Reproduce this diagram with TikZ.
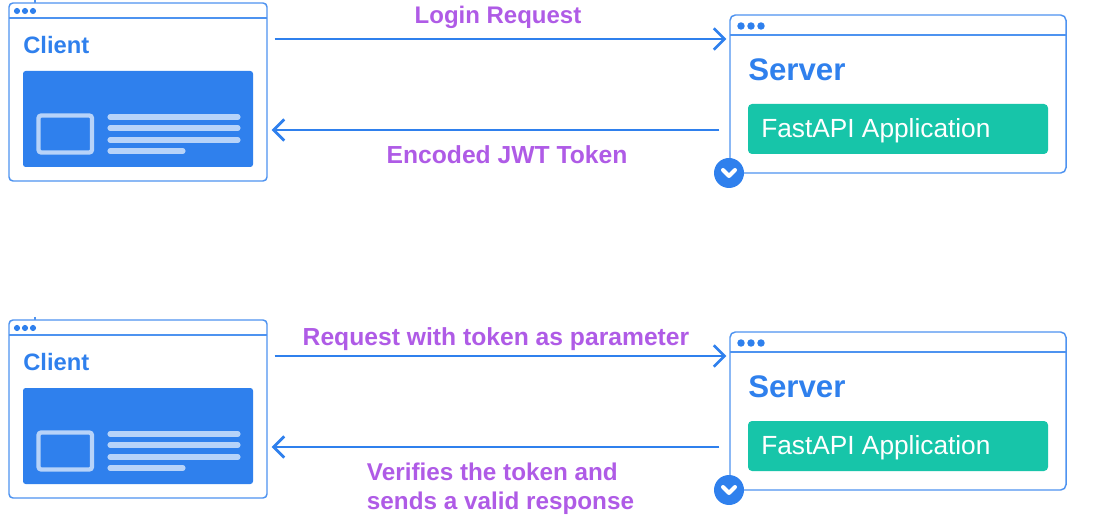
\documentclass[tikz,border=0pt]{standalone}
\usepackage{fontspec}
\setmainfont{Liberation Sans}
\definecolor{winblue}{RGB}{47, 128, 237}
\definecolor{paleblue}{RGB}{183, 211, 249}
\definecolor{appgreen}{RGB}{23, 197, 169}
\definecolor{msgpurple}{RGB}{175, 91, 230}
\usetikzlibrary{arrows.meta, positioning}
\tikzset{
  clientbox/.style={draw=winblue!85, line width=1.1pt, fill=white, rounded corners=3pt, minimum width=193.5pt, minimum height=133.5pt, inner sep=0pt},
  serverbox/.style={draw=winblue!85, line width=1.1pt, fill=white, rounded corners=4pt, minimum width=252pt, minimum height=118.5pt, inner sep=0pt},
  clienttitle/.style={anchor=west, text=winblue, inner sep=0pt, font=\fontsize{17.8pt}{20pt}\selectfont\bfseries},
  servertitle/.style={anchor=west, text=winblue, inner sep=0pt, font=\fontsize{23.4pt}{26pt}\selectfont\bfseries},
  screen/.style={fill=winblue, rounded corners=2pt, minimum width=172.5pt, minimum height=72pt, inner sep=0pt},
  appbox/.style={fill=appgreen, rounded corners=3pt, minimum width=225pt, minimum height=37.5pt, inner sep=0pt},
  applabel/.style={anchor=west, text=white, inner sep=0pt, font=\fontsize{19.7pt}{22pt}\selectfont},
  msglabel/.style={text=msgpurple, inner sep=0pt, align=left, font=\fontsize{18.5pt}{21.75pt}\selectfont\bfseries},
  msgarrow/.style={draw=winblue, line width=2.1pt, -{Straight Barb[length=8pt, width=16pt, line width=2pt]}},
  barline/.style={draw=winblue!85, line width=1.1pt},
  iconrect/.style={draw=paleblue, line width=3.2pt, rounded corners=2pt},
  textbar/.style={draw=paleblue, line width=3.8pt, line cap=round},
  badge/.style={circle, fill=winblue, minimum size=22.5pt, inner sep=0pt},
  chevron/.style={draw=white, line width=3pt, line cap=round, line join=round}
}
\begin{document}
\begin{tikzpicture}[x=0.75pt, y=-0.75pt]
  \useasboundingbox (0,0) rectangle (1094,530);

  % Top row: client window
  \draw[barline] (35,0) -- (35,3);
  \node[clientbox] (clienta) at (138,92) {};
  \draw[barline] (9,18) -- (267,18);
  \fill[winblue] (17,11) circle (2.3pt) (25,11) circle (2.3pt) (33,11) circle (2.3pt);
  \node[clienttitle] (clientnamea) at (23,45) {Client};
  \node[screen] (screena) at (138,119) {};
  \draw[iconrect] (38.5,115.5) rectangle (92,152.5);
  \draw[textbar] (110,117) -- (238,117);
  \draw[textbar] (110,128) -- (238,128);
  \draw[textbar] (110,140) -- (238,140);
  \draw[textbar] (110,151) -- (183,151);

  % Top row: server window
  \node[serverbox] (servera) at (898,94) {};
  \draw[barline] (730,35) -- (1066,35);
  \fill[winblue] (741,26) circle (2.8pt) (751,26) circle (2.8pt) (761,26) circle (2.8pt);
  \node[servertitle] (servernamea) at (748,70) {Server};
  \node[appbox] (appa) at (898,129) {};
  \node[applabel] (applabela) at (761,131) {FastAPI Application};
  \node[badge] (badgea) at (729,173) {};
  \draw[chevron] (723,170) -- (729,176) -- (735,170);

  % Top row: messages
  \draw[msgarrow] ([shift={(7,-53)}]clienta.east) -- ([shift={(-3,-55)}]servera.west);
  \draw[msgarrow] ([shift={(-10,36)}]servera.west) -- ([shift={(4,38)}]clienta.east);
  \node[msglabel, font=\fontsize{18pt}{21.75pt}\selectfont\bfseries] (logintext) at (498,17) {Login Request};
  \node[msglabel] (tokentext) at (507,155) {Encoded JWT Token};

  % Bottom row: client window
  \draw[barline] (35,317) -- (35,320);
  \node[clientbox] (clientb) at (138,409) {};
  \draw[barline] (9,335) -- (267,335);
  \fill[winblue] (17,328) circle (2.3pt) (25,328) circle (2.3pt) (33,328) circle (2.3pt);
  \node[clienttitle] (clientnameb) at (23,362) {Client};
  \node[screen] (screenb) at (138,436) {};
  \draw[iconrect] (38.5,432.5) rectangle (92,469.5);
  \draw[textbar] (110,434) -- (238,434);
  \draw[textbar] (110,445) -- (238,445);
  \draw[textbar] (110,457) -- (238,457);
  \draw[textbar] (110,468) -- (183,468);

  % Bottom row: server window
  \node[serverbox] (serverb) at (898,411) {};
  \draw[barline] (730,352) -- (1066,352);
  \fill[winblue] (741,343) circle (2.8pt) (751,343) circle (2.8pt) (761,343) circle (2.8pt);
  \node[servertitle] (servernameb) at (748,387) {Server};
  \node[appbox] (appb) at (898,446) {};
  \node[applabel] (applabelb) at (761,448) {FastAPI Application};
  \node[badge] (badgeb) at (729,490) {};
  \draw[chevron] (723,487) -- (729,493) -- (735,487);

  % Bottom row: messages
  \draw[msgarrow] ([shift={(7,-53)}]clientb.east) -- ([shift={(-3,-55)}]serverb.west);
  \draw[msgarrow] ([shift={(-10,36)}]serverb.west) -- ([shift={(4,38)}]clientb.east);
  \node[msglabel] (requesttext) at (496,339) {Request with token as parameter};
  \node[msglabel, font=\fontsize{18.2pt}{21.75pt}\selectfont\bfseries] (verifytext) at (500.5,488.5) {Verifies the token and\\sends a valid response};
\end{tikzpicture}
\end{document}
